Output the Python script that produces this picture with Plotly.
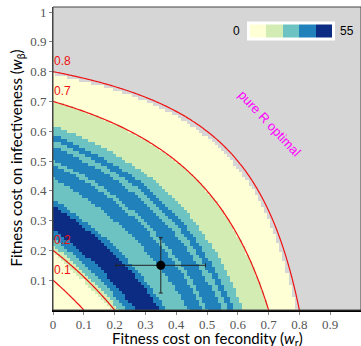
import numpy as np
import plotly.graph_objects as go

# grid of fitness costs
w_r = np.round(np.arange(0, 1.001, 0.01), 3)
w_b = np.round(np.arange(0, 1.001, 0.01), 3)

# band edges in combined cost 1-(1-w_r)(1-w_b)
band_edges = [0.0, 0.19, 0.215, 0.24, 0.27, 0.35, 0.37, 0.44, 0.49, 0.505, 0.55, 0.57, 0.59, 0.62, 0.70]
band_class = [0, 1, 2, 3, 4, 3, 2, 3, 2, 3, 2, 3, 2, 1, 0]
pure_r_limit = 0.79

contour_levels = [0.1, 0.2, 0.7, 0.8]

point_x, point_y = 0.35, 0.15
err_x, err_y = 0.145, 0.093

colors = ["#ffffd6", "#d2ecb4", "#6cc3c1", "#2182bb", "#0c2c84"]
zmax = 55

X, Y = np.meshgrid(w_r, w_b)
F = 1 - (1 - X) * (1 - Y)
idx = np.digitize(F, band_edges) - 1
cls = np.array(band_class)[idx].astype(float)
Z = (cls + 0.5) * zmax / len(colors)
Z[F > pure_r_limit] = np.nan

scale = []
for i, c in enumerate(colors):
    scale.append([i / len(colors), c])
    scale.append([(i + 1) / len(colors), c])

fig = go.Figure()
fig.add_trace(go.Heatmap(
    x=w_r, y=w_b, z=Z, zmin=0, zmax=zmax, colorscale=scale,
    hoverinfo="skip",
    colorbar=dict(orientation="h", x=0.773, y=0.922, xanchor="center", yanchor="middle",
                  len=88, lenmode="pixels", thickness=13, bgcolor="white",
                  xpad=3, ypad=3, outlinewidth=0, showticklabels=False, ticks="")))

for lo, hi in [(0.1, 0.2), (0.7, 0.8)]:
    fig.add_trace(go.Contour(
        x=w_r, y=w_b, z=F, showscale=False, hoverinfo="skip",
        contours=dict(start=lo, end=hi, size=0.1, coloring="none"),
        line=dict(color="#ee1111", width=1.2)))

fig.add_trace(go.Scatter(
    x=[point_x], y=[point_y], mode="markers",
    marker=dict(color="black", size=9),
    error_x=dict(type="constant", value=err_x, color="#222", thickness=1, width=2),
    error_y=dict(type="constant", value=err_y, color="#222", thickness=1, width=2)))

for lv in contour_levels:
    fig.add_annotation(x=0, y=lv + 0.005, text=f"{lv:g}", showarrow=False,
                       xanchor="left", yanchor="bottom", xshift=-1,
                       font=dict(family="Liberation Sans", size=12, color="#ee1111"))

fig.add_annotation(x=0.703, y=0.625, text="pure R optimal", showarrow=False, textangle=47,
                   font=dict(family="Liberation Sans", size=13, color="#ff00ff"))
fig.add_annotation(x=0.613, y=0.922, xref="paper", yref="paper", text="0", showarrow=False,
                   xanchor="right", yanchor="middle",
                   font=dict(family="Liberation Sans", size=12, color="black"))
fig.add_annotation(x=0.925, y=0.922, xref="paper", yref="paper", text="55", showarrow=False,
                   xanchor="left", yanchor="middle",
                   font=dict(family="Liberation Sans", size=12, color="black"))

# axis titles
fig.add_annotation(x=0.5, y=0, xref="paper", yref="paper", yshift=-29, showarrow=False,
                   text="Fitness cost on fecondity (<i>w</i><sub>r</sub>)",
                   xanchor="center", yanchor="middle",
                   font=dict(family="Lato", size=15, color="black"))
fig.add_annotation(x=0, y=0.5, xref="paper", yref="paper", xshift=-37, showarrow=False,
                   text="Fitness cost on infectiveness (<i>w</i><sub>β</sub>)", textangle=-90,
                   xanchor="center", yanchor="middle",
                   font=dict(family="Lato", size=15, color="black"))

fig.add_shape(type="rect", xref="paper", yref="paper", x0=0, y0=0, x1=1, y1=1,
              line=dict(color="#444", width=1))

tickfont = dict(family="Liberation Serif", size=13, color="#555")
fig.update_xaxes(range=[0, 1], tickvals=[i / 10 for i in range(11)],
                 ticktext=["0"] + [f"{i/10:g}" for i in range(1, 10)] + ["1"],
                 ticks="outside", ticklen=3, tickcolor="#888", tickfont=tickfont,
                 ticklabelstandoff=-2,
                 showline=True, linecolor="black", linewidth=2, showgrid=False, zeroline=False,
                 automargin=False)
fig.update_yaxes(range=[0, 1.017], tickvals=[i / 10 for i in range(1, 11)],
                 ticktext=[f"{i/10:g}" for i in range(1, 10)] + ["1"],
                 ticks="outside", ticklen=3, tickcolor="#888", tickfont=tickfont,
                 showline=True, linecolor="#444", linewidth=1, showgrid=False, zeroline=False,
                 automargin=False)

fig.update_layout(width=361, height=346,
                  margin=dict(l=53, r=0, t=7, b=36, autoexpand=False),
                  plot_bgcolor="#d6d6d6", paper_bgcolor="white", showlegend=False)
fig.write_html("out.html", config={"displayModeBar": False},
               post_script="document.body.style.margin='0';")
